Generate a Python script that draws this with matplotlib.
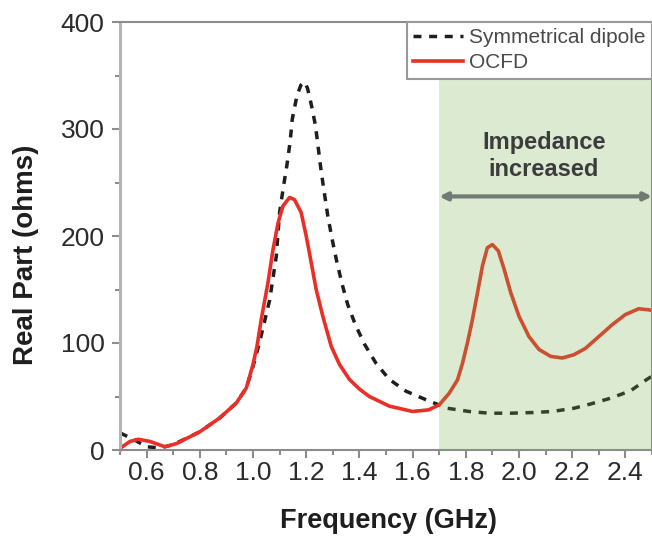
"""
Real part of the input impedance: symmetrical dipole vs. OCFD.
"""

import matplotlib
matplotlib.use("Agg")
import matplotlib.pyplot as plt
from matplotlib.ticker import MultipleLocator

plt.rcParams['font.family'] = ['Liberation Sans', 'DejaVu Sans']

# Symmetrical dipole (dashed)
dipole_freq = [0.50, 0.55, 0.60, 0.65, 0.70, 0.75, 0.80, 0.875, 0.9375, 0.975,
               1.00, 1.025, 1.0625, 1.0875, 1.10, 1.115, 1.128, 1.14, 1.1475,
               1.165, 1.18, 1.194, 1.205, 1.219, 1.235, 1.246, 1.256, 1.269,
               1.281, 1.2975, 1.315, 1.335, 1.356, 1.385, 1.419, 1.4625, 1.5125,
               1.575, 1.65, 1.70, 1.731, 1.8125, 1.8875, 1.969, 2.05, 2.125,
               2.206, 2.269, 2.344, 2.419, 2.481, 2.50]
dipole_real = [16, 10, 3, 2, 5, 11, 17, 30, 44, 58,
               78, 101, 140, 181, 222, 247, 267, 289, 309,
               331, 341, 344, 338, 323, 303, 281, 261, 239,
               219, 197, 176, 155, 136, 117, 99, 81, 66,
               55, 47, 42, 39, 36, 34.4, 34.4, 35, 36,
               39, 43, 48.4, 55.3, 66, 69]

# OCFD (solid red)
ocfd_freq = [0.50, 0.5375, 0.569, 0.6125, 0.669, 0.7125, 0.80, 0.875, 0.9375, 0.975,
             1.00, 1.015, 1.031, 1.056, 1.075, 1.094, 1.1125, 1.1375, 1.156, 1.181,
             1.20, 1.219, 1.2375, 1.2625, 1.294, 1.325, 1.3625, 1.40, 1.4375,
             1.5125, 1.60, 1.66, 1.70, 1.7375, 1.769, 1.7875, 1.806, 1.825, 1.844,
             1.8625, 1.881, 1.90, 1.9225, 1.944, 1.969, 2.00, 2.0375, 2.075, 2.119,
             2.1625, 2.206, 2.25, 2.30, 2.35, 2.40, 2.45, 2.4875, 2.50]
ocfd_real = [1.5, 8, 10, 8, 3, 6, 17, 30, 44, 58,
             80, 97, 122, 156, 187, 212, 228, 236, 234, 222,
             200, 175, 150, 125, 97, 80, 66, 57, 50,
             41, 36, 37.5, 42.2, 53, 65.6, 81, 100, 122, 147,
             172, 189, 192, 186, 169, 147, 125, 106, 94, 87.5,
             86, 89, 95, 106, 117, 126.6, 132, 131, 130.5]

x_ticks_major = 0.2
y_ticks_major = 100
band = (1.7, 2.5)
band_text = "Impedance\nincreased"

TICK_COLOR = '#8c8c8c'
TEXT_COLOR = '#2b2b2b'


def main():
    fig = plt.figure(figsize=(6.52, 5.44), dpi=100)
    ax = fig.add_axes([120 / 652, 94 / 544, 532 / 652, 428 / 544])

    ax.plot(dipole_freq, dipole_real, color='#1e1e1e', lw=2.5,
            linestyle=(0, (2.3, 2.2)), label='Symmetrical dipole', zorder=2)
    ax.plot(ocfd_freq, ocfd_real, color='#ea2f27', lw=2.6,
            label='OCFD', zorder=2)

    # shaded region sits on top of the curves, as in the reference
    ax.axvspan(band[0], band[1], color=(115 / 255, 175 / 255, 75 / 255),
               alpha=0.25, lw=0, zorder=3)

    ax.annotate('', xy=(band[0], 237), xytext=(band[1], 237),
                arrowprops=dict(arrowstyle='<|-|>', color='#737a72', lw=3,
                                mutation_scale=11, shrinkA=0, shrinkB=0),
                zorder=4)
    ax.text(2.094, 275, band_text, ha='center', va='center', fontsize=17,
            fontweight='bold', color='#3c3c3c', linespacing=1.25, zorder=4)

    ax.set_xlim(0.5, 2.5)
    ax.set_ylim(0, 400)
    ax.xaxis.set_major_locator(MultipleLocator(x_ticks_major))
    ax.xaxis.set_minor_locator(MultipleLocator(x_ticks_major / 2))
    ax.yaxis.set_major_locator(MultipleLocator(y_ticks_major))
    ax.yaxis.set_minor_locator(MultipleLocator(y_ticks_major / 2))
    ax.xaxis.set_major_formatter(plt.FuncFormatter(lambda v, p: f'{v:.1f}'))

    ax.tick_params(which='major', direction='out', length=6, width=1.5,
                   color=TICK_COLOR, labelsize=19, labelcolor=TEXT_COLOR)
    ax.tick_params(which='minor', direction='out', length=3.5, width=1.5,
                   color=TICK_COLOR)
    ax.tick_params(axis='x', which='major', pad=2)
    ax.tick_params(axis='y', which='major', pad=5)

    for side in ['top', 'bottom', 'right']:
        ax.spines[side].set_color(TICK_COLOR)
        ax.spines[side].set_linewidth(1.5)
    ax.spines['left'].set_color('#b4b4b4')
    ax.spines['left'].set_linewidth(2.2)

    ax.set_xlabel('Frequency (GHz)', fontsize=19.5, fontweight='bold',
                  color='#1e1e1e')
    ax.set_ylabel('Real Part (ohms)', fontsize=20, fontweight='bold',
                  color='#1e1e1e')
    ax.xaxis.set_label_coords(0.504, -0.135)
    ax.yaxis.set_label_coords(-0.152, 0.456)

    leg = ax.legend(loc='upper right', bbox_to_anchor=(1.0, 1.0),
                    borderaxespad=0, fontsize=15, frameon=True, fancybox=False,
                    framealpha=1, edgecolor='#9a9a9a', handlelength=2.4,
                    handletextpad=0.3, labelspacing=0.3, borderpad=0.3)
    leg.get_frame().set_linewidth(1.5)
    for t in leg.get_texts():
        t.set_color('#4a4a4a')

    fig.savefig('out.png', dpi=100)


if __name__ == "__main__":
    main()
